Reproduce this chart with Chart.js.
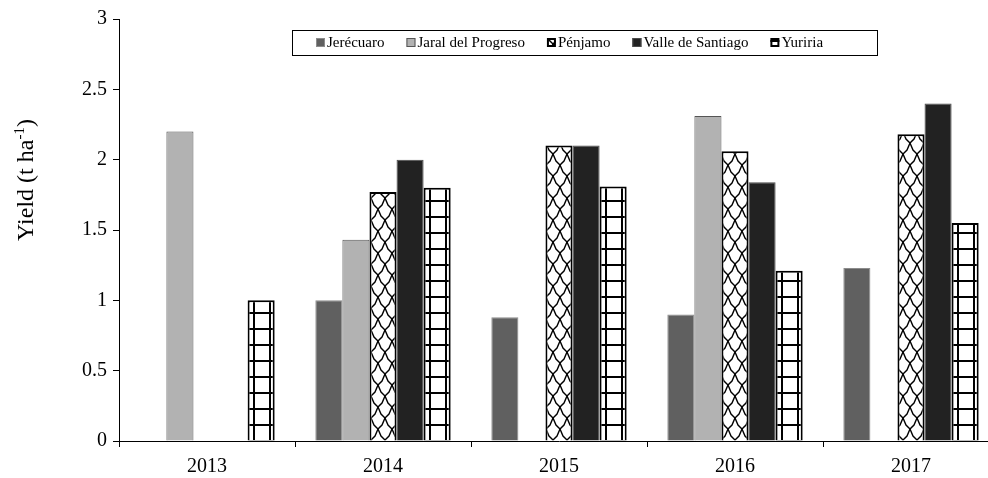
<!DOCTYPE html>
<html>
<head>
<meta charset="utf-8">
<script src="https://cdn.jsdelivr.net/npm/chart.js@4/dist/chart.umd.min.js"></script>
<style>
  html, body { margin: 0; padding: 0; background: #fff; overflow: hidden; }
  #wrap { width: 1010px; height: 478px; position: relative; }
</style>
</head>
<body>
<div id="wrap"><canvas id="yieldChart" width="1010" height="478"></canvas></div>
<script>
// Yield by municipality and year (t ha-1)
const years = ['2013', '2014', '2015', '2016', '2017'];
const jerecuaro = [null, 1.00, 0.88, 0.90, 1.23];
const jaralDelProgreso = [2.20, 1.43, null, 2.31, null];
const penjamo = [null, 1.77, 2.10, 2.06, 2.18];
const valleDeSantiago = [null, 2.00, 2.10, 1.84, 2.40];
const yuriria = [1.00, 1.80, 1.81, 1.21, 1.55];
const yTicks = [0, 0.5, 1, 1.5, 2, 2.5, 3];

const SERIF = "'Liberation Serif', 'Times New Roman', serif";

// Scale-like weave fill
function makeScalePattern() {
  const c = document.createElement('canvas');
  c.width = 14; c.height = 22;
  const g = c.getContext('2d');
  g.fillStyle = '#fff';
  g.fillRect(0, 0, 14, 22);
  g.strokeStyle = '#000';
  g.lineWidth = 1.4;
  const rows = [[0, 0], [7, 11]];
  for (const [ox, oy] of rows) {
    for (let k = -1; k <= 2; k++) {
      for (let m = -1; m <= 1; m++) {
        const x0 = ox + k * 14, y0 = oy + m * 22;
        g.beginPath();
        g.moveTo(x0 - 7, y0);
        g.lineTo(x0 - 4, y0 + 7);
        g.lineTo(x0, y0 + 11);
        g.moveTo(x0, y0 + 11);
        g.lineTo(x0 + 4, y0 + 7);
        g.lineTo(x0 + 7, y0);
        g.stroke();
      }
    }
  }
  return g.createPattern(c, 'repeat');
}

// Square grid fill
function makeGridPattern() {
  const c = document.createElement('canvas');
  c.width = 16; c.height = 16;
  const g = c.getContext('2d');
  g.fillStyle = '#fff';
  g.fillRect(0, 0, 16, 16);
  g.fillStyle = '#000';
  g.fillRect(13, 0, 2, 16);
  g.fillRect(0, 8, 16, 2);
  return g.createPattern(c, 'repeat');
}

// Vertical axis title with superscript unit
const axisTitle = {
  id: 'axisTitle',
  afterDraw(chart) {
    const ctx = chart.ctx;
    const main = '24px ' + SERIF, sup = '15px ' + SERIF;
    const parts = [['Yield (t ha', main, 0], ['-1', sup, -9], [')', main, 0]];
    ctx.save();
    let total = 0;
    for (const [t, f] of parts) { ctx.font = f; total += ctx.measureText(t).width; }
    ctx.translate(33, 180);
    ctx.rotate(-Math.PI / 2);
    ctx.fillStyle = '#000';
    ctx.textBaseline = 'alphabetic';
    ctx.textAlign = 'left';
    let x = -total / 2;
    for (const [t, f, dy] of parts) {
      ctx.font = f;
      ctx.fillText(t, x, dy);
      x += ctx.measureText(t).width;
    }
    ctx.restore();
  }
};

// Framed legend row inside the plot area
const legendRow = {
  id: 'legendRow',
  afterDraw(chart) {
    const ctx = chart.ctx;
    ctx.save();
    ctx.strokeStyle = '#000';
    ctx.lineWidth = 1;
    ctx.strokeRect(292.5, 30.5, 585, 25);
    ctx.font = '15px ' + SERIF;
    ctx.textBaseline = 'middle';
    ctx.textAlign = 'left';
    let x = 316;
    const cy = 43;
    chart.data.datasets.forEach(ds => {
      const bw = ds.borderWidth;
      ctx.fillStyle = ds.backgroundColor;
      ctx.fillRect(x, cy - 5, 9, 9);
      ctx.strokeStyle = ds.borderColor;
      ctx.lineWidth = bw;
      ctx.strokeRect(x + bw / 2, cy - 5 + bw / 2, 9 - bw, 9 - bw);
      ctx.fillStyle = '#000';
      ctx.fillText(ds.label, x + 11, cy);
      x += 11 + ctx.measureText(ds.label).width + 22;
    });
    ctx.restore();
  }
};

const chart = new Chart(document.getElementById('yieldChart'), {
  type: 'bar',
  data: {
    labels: years,
    datasets: [
      { label: 'Jerécuaro', data: jerecuaro, backgroundColor: '#606060', borderColor: '#8c8c8c', borderWidth: 1 },
      { label: 'Jaral del Progreso', data: jaralDelProgreso, backgroundColor: '#b2b2b2', borderColor: '#555555', borderWidth: 1 },
      { label: 'Pénjamo', data: penjamo, backgroundColor: makeScalePattern(), borderColor: '#000', borderWidth: 2 },
      { label: 'Valle de Santiago', data: valleDeSantiago, backgroundColor: '#222222', borderColor: '#4a4a4a', borderWidth: 1 },
      { label: 'Yuriria', data: yuriria, backgroundColor: makeGridPattern(), borderColor: '#000', borderWidth: 2 }
    ]
  },
  options: {
    responsive: false,
    animation: false,
    events: [],
    layout: { padding: { top: 19, right: 11, bottom: 0, left: 0 } },
    datasets: { bar: { categoryPercentage: 0.769, barPercentage: 1, borderSkipped: 'start' } },
    plugins: {
      legend: { display: false },
      title: { display: false },
      tooltip: { enabled: false }
    },
    scales: {
      x: {
        offset: true,
        border: { display: true, color: '#000', width: 1 },
        grid: { display: true, offset: true, drawOnChartArea: false, drawTicks: true, tickLength: 6, color: '#000' },
        ticks: { color: '#000', padding: 8, font: { family: SERIF, size: 20 }, maxRotation: 0 },
        afterFit(s) { s.height = 37; }
      },
      y: {
        min: 0, max: 3,
        afterBuildTicks(s) { s.ticks = yTicks.map(v => ({ value: v })); },
        border: { display: true, color: '#000', width: 1 },
        grid: { display: true, drawOnChartArea: false, drawTicks: true, tickLength: 6, color: '#000' },
        ticks: { color: '#000', padding: 6, font: { family: SERIF, size: 20 }, callback: v => String(v) },
        afterFit(s) { s.width = 119; }
      }
    }
  },
  plugins: [axisTitle, legendRow]
});
</script>
</body>
</html>
